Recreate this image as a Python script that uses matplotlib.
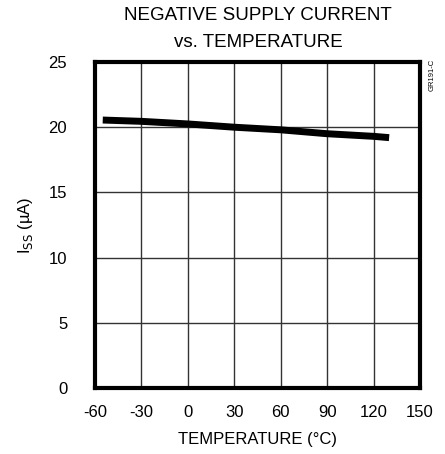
import matplotlib.pyplot as plt
import numpy as np

# datos
temp = [-55, -30, 0, 30, 60, 90, 120, 130]
iss = [20.55, 20.45, 20.25, 20.0, 19.8, 19.5, 19.3, 19.2]

xticks = [-60, -30, 0, 30, 60, 90, 120, 150]
yticks = [0, 5, 10, 15, 20, 25]

plt.rcParams['font.family'] = ['Liberation Sans Narrow', 'Liberation Sans', 'DejaVu Sans']

fig = plt.figure(figsize=(4.45, 4.54), dpi=100)
ax = fig.add_axes([0.2135, 0.1454, 0.7305, 0.718])

ax.plot(temp, iss, color='black', lw=5, solid_capstyle='butt')

ax.set_xlim(-60, 150)
ax.set_ylim(0, 25)
ax.set_xticks(xticks)
ax.set_xticklabels([str(t) for t in xticks])
ax.set_yticks(yticks)
ax.grid(True, color='#333333', lw=1.0)
ax.tick_params(length=0, labelsize=12)
ax.tick_params(axis='y', pad=20)
ax.tick_params(axis='x', pad=12)
for s in ax.spines.values():
    s.set_linewidth(3)

ax.set_xlabel('TEMPERATURE (°C)', fontsize=12, labelpad=9)
ax.set_ylabel(r'I$_{\mathrm{SS}}$ (µA)', fontsize=12, labelpad=10)

fig.text(0.58, 0.965, 'NEGATIVE SUPPLY CURRENT', ha='center', va='center', fontsize=13.5)
fig.text(0.58, 0.907, 'vs. TEMPERATURE', ha='center', va='center', fontsize=13.5)
fig.text(0.972, 0.835, 'GR191-C', rotation=90, ha='center', va='center', fontsize=5.5)

fig.savefig('out.png', dpi=100)
